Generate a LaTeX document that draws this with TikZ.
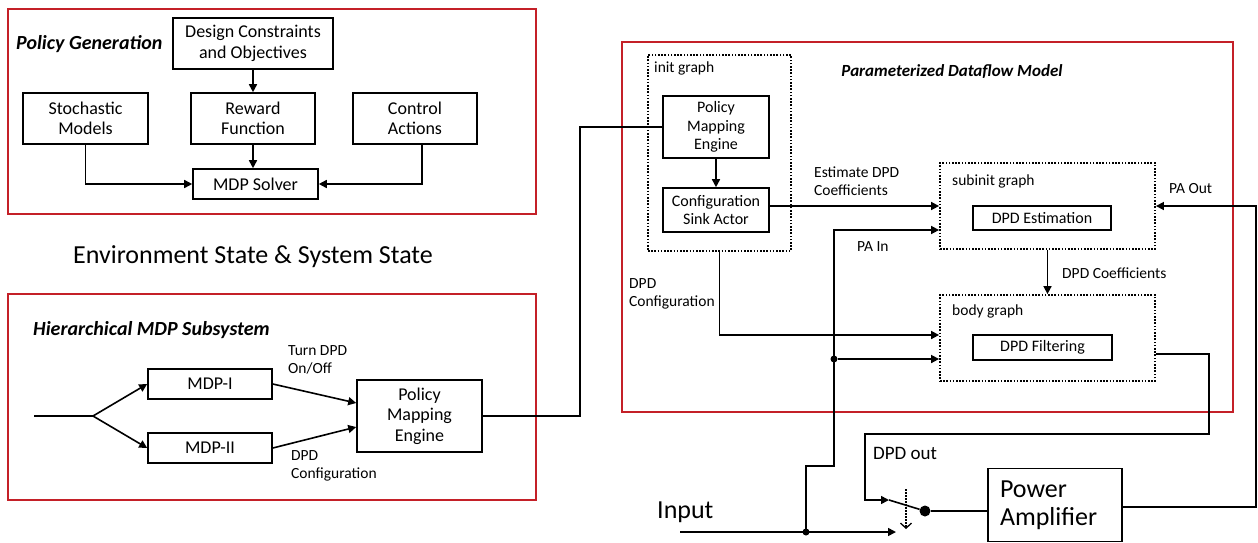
\documentclass[tikz,border=0pt]{standalone}
\usepackage{fontspec}
\setmainfont{Carlito}
\usetikzlibrary{arrows.meta,positioning}
\definecolor{framered}{RGB}{196,32,40}

\begin{document}
\begin{tikzpicture}[
  x=1pt, y=-1pt,
  box/.style={draw, line width=1.6pt, align=center, inner sep=2pt, font=\fontsize{18}{20.5}\selectfont},
  ibox/.style={draw, line width=1.6pt, align=center, inner sep=2pt, font=\fontsize{16}{18.7}\selectfont},
  grp/.style={draw, line width=1.8pt, dash pattern=on 1.6pt off 1.6pt, inner sep=0pt},
  frame/.style={draw=framered, line width=2.6pt},
  arr/.style={-{Triangle[length=8pt,width=8pt]}, line width=1.6pt},
  wire/.style={line width=1.6pt},
  lbl/.style={inner sep=0pt, anchor=west, align=left, font=\fontsize{15.5}{18.5}\selectfont},
  ttl/.style={inner sep=0pt, anchor=west, font=\fontsize{20}{24}\selectfont\bfseries\itshape},
  big/.style={inner sep=0pt, align=left, font=\fontsize{26}{28}\selectfont},
  dot/.style={circle, fill, inner sep=0pt, minimum size=7pt}
]
\useasboundingbox (0,0) rectangle (1258,542);

% policy generation
\draw[frame] (8,9) rectangle (536,214);
\node[ttl] (polgentitle) at (16,44) {Policy Generation};
\node[box, minimum width=160pt, minimum height=51pt] (design) at (253,43.5) {Design Constraints\\and Objectives};
\node[box, minimum width=125pt, minimum height=51pt] (stoch) at (85.5,118.5) {Stochastic\\Models};
\node[box, minimum width=124pt, minimum height=51pt] (reward) at (253,118.5) {Reward\\Function};
\node[box, minimum width=124pt, minimum height=51pt] (control) at (415,118.5) {Control\\Actions};
\node[box, minimum width=125pt, minimum height=30pt] (solver) at (255.5,184) {MDP Solver};

\draw[arr] (design) -- (reward);
\draw[arr] (reward.south) -- (reward.south |- solver.north);
\draw[arr] (stoch.south) |- (solver.west);
\draw[arr] ([xshift=7pt]control.south) |- (solver.east);

\node[font=\fontsize{26}{30}\selectfont] (envstate) at (253,257) {Environment State \& System State};

% hierarchical mdp
\draw[frame] (8,294) rectangle (536,500);
\node[ttl] (hiertitle) at (33,330) {Hierarchical MDP Subsystem};
\node[box, minimum width=124pt, minimum height=30pt] (mdpone) at (210,384) {MDP-I};
\node[box, minimum width=124pt, minimum height=30pt] (mdptwo) at (210,448) {MDP-II};
\node[box, minimum width=125pt, minimum height=72pt] (pmeleft) at (419.5,416) {Policy\\Mapping\\Engine};
\node[lbl] (onofflbl) at (288,360) {Turn DPD\\On/Off};
\node[lbl] (cfglbl) at (291,466) {DPD\\Configuration};

\coordinate (hin) at (34,416);
\coordinate (fork) at (93,416);
\draw[wire] (hin) -- (fork);
\draw[arr] (fork) -- (mdpone.west);
\draw[arr] (fork) -- (mdptwo.west);
\draw[arr] (mdpone.east) -- ([yshift=13pt]pmeleft.west);
\draw[arr] (mdptwo.east) -- ([yshift=-11pt]pmeleft.west);

% parameterized dataflow
\draw[frame] (622,42) rectangle (1233,412);
\node[ttl, anchor=center, font=\fontsize{17}{20}\selectfont\bfseries\itshape] (pdftitle) at (952,72) {Parameterized Dataflow Model};

\node[grp, minimum width=143pt, minimum height=196pt] (initg) at (719.5,153) {};
\node[lbl] (initlbl) at (654,68) {init graph};
\node[ibox, minimum width=106pt, minimum height=62pt] (pmeinit) at (716,127) {Policy\\Mapping\\Engine};
\node[ibox, minimum width=106pt, minimum height=44pt] (sink) at (716,210) {Configuration\\Sink Actor};

\node[grp, minimum width=215pt, minimum height=86pt] (subinit) at (1047.5,206) {};
\node[lbl] (subinitlbl) at (952,181) {subinit graph};
\node[ibox, minimum width=138pt, minimum height=24pt] (estim) at (1042,218) {DPD Estimation};

\node[grp, minimum width=215pt, minimum height=86pt] (body) at (1047.5,338) {};
\node[lbl] (bodylbl) at (952,311) {body graph};
\node[ibox, minimum width=139pt, minimum height=25pt] (filt) at (1042.5,347.5) {DPD Filtering};

\node[lbl] (estlbl) at (814,181) {Estimate DPD\\Coefficients};
\node[lbl] (palbl) at (857,247) {PA In};
\node[lbl] (paoutlbl) at (1169,189) {PA Out};
\node[lbl] (coeflbl) at (1062,273) {DPD Coefficients};
\node[lbl] (dpdcfglbl) at (629,294) {DPD\\Configuration};

\coordinate (upbend) at (580,270);
\draw[wire] (pmeleft.east) -| (upbend) |- (pmeinit.west);
\draw[arr] (pmeinit) -- (sink);
\draw[arr] ([yshift=4pt]sink.east) -- ([yshift=4pt]sink.east -| subinit.west);
\draw[arr] (subinit.south) -- (body.north);
\draw[arr] (initg.south) |- ([yshift=3pt]body.west);

% input, switch and amplifier
\node[big, anchor=west] (inputlbl) at (657,512) {Input};
\node[big, draw, line width=1.6pt, text width=110pt, inner sep=12pt, minimum width=134pt, minimum height=70pt] (pa) at (1055,505) {Power\\Amplifier};
\node[lbl, font=\fontsize{19}{22}\selectfont] (dpdoutlbl) at (873,453) {DPD out};

\coordinate (inp) at (680,532);
\coordinate (swlow) at (896,532);
\coordinate (swin) at (889,500);
\coordinate (swtop) at (906,489);
\coordinate (swbot) at (906,529);
\node[dot, minimum size=11pt] (swout) at (925,511) {};
\node[dot] (jin) at (806,532) {};
\node[dot] (jpa) at (834,359) {};
\coordinate (pabend) at (834,466);
\coordinate (outbend) at (1209,434);
\coordinate (dpdcorner) at (865,500);
\coordinate (paoutcorner) at (1256,300);

\draw[arr] (inp) -- (swlow);
\draw[arr] (jin.center) |- (pabend) |- ([yshift=-24pt]subinit.west);
\draw[arr] (jpa) -- (jpa -| body.west);
\draw[arr] ([yshift=-16pt]body.east) -| (outbend) -| (dpdcorner) -- (swin);
\draw[wire] (swin) -- (swout);
\draw[line width=1.3pt, dash pattern=on 1.5pt off 1.5pt, -{Straight Barb[length=5pt,width=11pt]}] (swtop) -- (swbot);
\draw[wire] (swout) -- (swout -| pa.west);
\draw[arr] ([yshift=-2pt]pa.east) -| (paoutcorner) |- (subinit.east);

\end{tikzpicture}
\end{document}
